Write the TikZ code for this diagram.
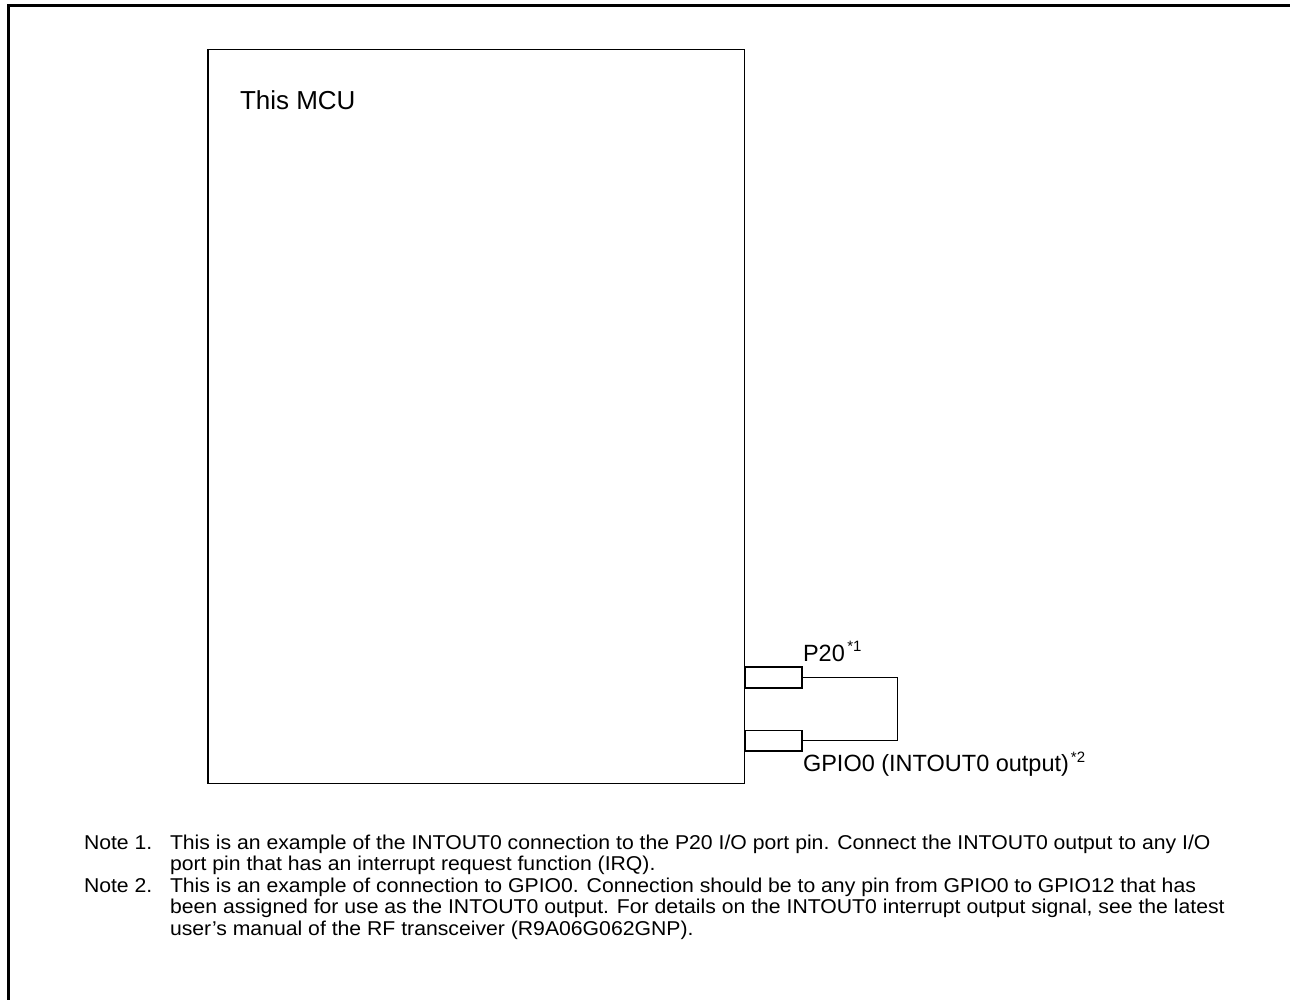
\documentclass[tikz,border=0pt]{standalone}
\usepackage{fontspec}
\setmainfont{Liberation Sans}
\newfontfamily\notefont[FakeStretch=1.06]{Liberation Sans}
\begin{document}
\begin{tikzpicture}[x=1pt,y=-1pt,
  frame/.style={line width=3pt},
  wire/.style={line width=1.5pt},
  box/.style={draw, line width=1.5pt, inner sep=0pt, outer sep=0pt},
  txt/.style={inner sep=0pt, outer sep=0pt, anchor=base west},
  title/.style={txt, font=\fontsize{26}{30}\selectfont},
  pinlbl/.style={txt, font=\fontsize{23.5}{27}\selectfont},
  note/.style={txt, font=\notefont\fontsize{20}{21.5}\selectfont}]
\useasboundingbox (0,0) rectangle (1290,1000);
% outer frame (top and left edges only)
\draw[frame] (8.5,1000) -- (8.5,5.5) -- (1290,5.5);
% MCU block
\node[box, minimum width=536.5pt, minimum height=734pt, anchor=north west] (mcu) at (208,49.5) {};
\node[title] (mcutxt) at (240,110) {This MCU};
% pins
\node[box, minimum width=57pt, minimum height=21pt] (p20) at (773.5,677.5) {};
\node[box, minimum width=57pt, minimum height=20.5pt] (gpio) at (773.5,740.5) {};
\coordinate (jn) at (897.5,709);
\draw[wire] (p20.east) -| (jn) |- (gpio.east);
% pin labels
\node[pinlbl] (p20lbl) at (803,661) {P20\hspace{2.5pt}\raisebox{10pt}{\fontsize{15}{15}\selectfont *1}};
\node[pinlbl] (gpiolbl) at (803,771.5) {GPIO0 (INTOUT0 output)\hspace{2pt}\raisebox{9.5pt}{\fontsize{15}{15}\selectfont *2}};
% notes
\node[note] (n1) at (84,849) {Note 1.};
\node[note] (n1a) at (170,849) {This is an example of the INTOUT0 connection to the P20 I/O port pin. Connect the INTOUT0 output to any I/O};
\node[note] (n1b) at (170,870.5) {port pin that has an interrupt request function (IRQ).};
\node[note] (n2) at (84,892) {Note 2.};
\node[note] (n2a) at (170,892) {This is an example of connection to GPIO0. Connection should be to any pin from GPIO0 to GPIO12 that has};
\node[note] (n2b) at (170,913.5) {been assigned for use as the INTOUT0 output. For details on the INTOUT0 interrupt output signal, see the latest};
\node[note] (n2c) at (170,935) {user’s manual of the RF transceiver (R9A06G062GNP).};
\end{tikzpicture}
\end{document}
